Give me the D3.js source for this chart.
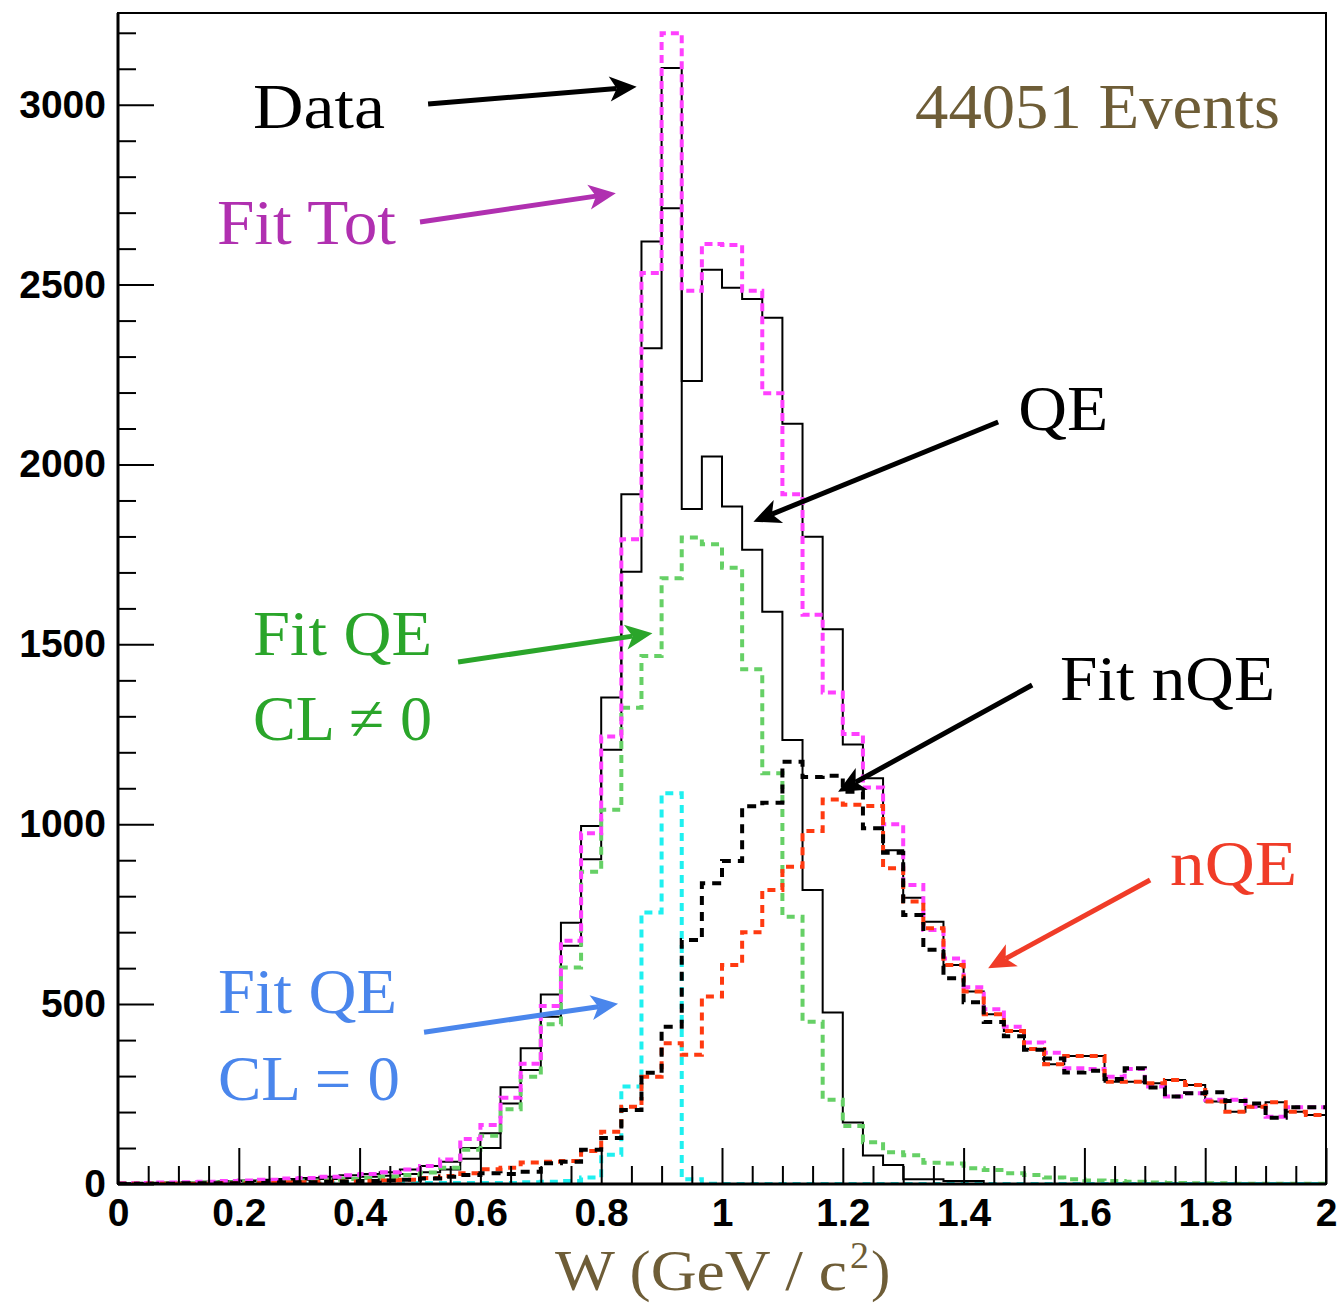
<!DOCTYPE html>
<html><head><meta charset="utf-8">
<script src="https://cdn.jsdelivr.net/npm/d3@7"></script>
<style>body{margin:0;background:#fff}svg{display:block}</style>
</head><body>
<svg id="c" width="1337" height="1307"></svg>
<script>
// ---------- data (60 bins, W from 0 to 2 GeV/c^2) ----------
const binCount = 60;
const wRange = [0, 2];
const dataCounts = [2,3,4,5,6,8,10,12,14,17,20,24,28,33,40,50,62,100,141,269,377,527,726,995,1352,1917,2620,3102,2232,2541,2491,2460,2408,2113,1799,1542,1222,1128,928,796,729,609,535,472,425,375,333,356,356,284,284,280,289,275,229,201,215,227,201,192];
const qeCounts = [1,2,3,4,5,6,8,9,10,12,14,17,20,23,28,33,40,70,100,224,317,465,662,903,1207,1702,2323,2712,1876,2022,1883,1763,1591,1234,817,477,171,79,53,13,13,8,8,0,0,0,0,0,0,0,0,0,0,0,0,0,0,0,0,0];
const nqeCounts = [1,1,1,1,1,2,2,3,4,5,6,7,8,10,12,17,22,30,41,45,60,62,64,92,145,215,298,391,359,521,609,700,817,882,981,1069,1054,1051,878,785,711,609,535,472,425,375,333,356,356,284,284,280,289,275,229,201,215,227,201,192];
const fitTot = [2,3,4,5,6,8,10,12,15,17,20,24,28,33,40,50,68,125,164,240,334,495,676,975,1244,1792,2532,3199,2483,2613,2610,2483,2198,1917,1582,1366,1251,1102,1000,831,706,627,547,486,437,393,365,322,320,298,320,271,243,252,234,234,215,187,213,213];
const fitQEcl = [1,2,3,3,4,5,6,7,9,10,12,14,17,20,25,32,45,95,134,208,298,444,602,868,1040,1324,1468,1684,1797,1778,1713,1431,1142,743,451,234,161,116,88,80,59,57,44,39,30,25,18,13,10,8,6,4,3,2,2,1,1,1,1,1];
const fitQEcl0 = [0,0,0,1,1,1,1,1,2,2,2,2,3,3,3,3,3,3,3,3,5,6,8,18,81,271,755,1086,13,1,0,0,0,0,0,0,0,0,0,0,0,0,0,0,0,0,0,0,0,0,0,0,0,0,0,0,0,0,0,0];
const fitNQE = [1,1,1,2,2,2,3,3,4,5,6,7,8,10,12,15,20,25,30,28,34,58,62,95,128,206,309,437,678,836,898,1050,1060,1174,1131,1135,1090,989,921,748,651,572,505,450,411,373,349,310,315,292,322,268,243,252,255,231,224,184,213,213];
const yTickLabels = [0,500,1000,1500,2000,2500,3000];
const xTickLabels = [0,0.2,0.4,0.6,0.8,1,1.2,1.4,1.6,1.8,2];

// ---------- scales ----------
const svg = d3.select('#c');
const L = 118, R = 1326, T = 13, B = 1184;
const x = d3.scaleLinear().domain(wRange).range([L, R]);
const y = d3.scaleLinear().domain([0, 3255]).range([B, T]);
const bw = (wRange[1] - wRange[0]) / binCount;

svg.append('defs').append('clipPath').attr('id','clip')
  .append('rect').attr('x',L).attr('y',T).attr('width',R-L).attr('height',B-T);

// ---------- histograms ----------
const line = d3.line().x(d=>x(d[0])).y(d=>y(d[1])).curve(d3.curveStepAfter);
function pts(vals){
  const p = vals.map((v,i)=>[wRange[0]+i*bw, v]);
  p.push([wRange[1], vals[vals.length-1]]);
  return p;
}
const plot = svg.append('g').attr('clip-path','url(#clip)');
const series = [
  {v: dataCounts, c:'#000', w:2, d:null},
  {v: qeCounts, c:'#000', w:2, d:null},
  {v: fitQEcl, c:'#66d066', w:4, d:'8,6'},
  {v: fitQEcl0, c:'#1ff0f0', w:4, d:'8,6'},
  {v: fitTot, c:'#ff40ff', w:4, d:'8,5'},
  {v: nqeCounts, c:'#ff3a10', w:4, d:'8,6'},
  {v: fitNQE, c:'#000', w:4, d:'9,7'}
];
series.forEach(s=>{
  plot.append('path').attr('d', line(pts(s.v)))
    .attr('fill','none').attr('stroke',s.c).attr('stroke-width',s.w)
    .attr('stroke-dasharray', s.d);
});

// ---------- axes ----------
const axFont = '"Liberation Sans", Arial, Helvetica, sans-serif';
const yMajor = d3.axisLeft(y).tickValues(yTickLabels).tickSize(-36).tickPadding(12).tickFormat(d3.format('d'));
const yMinor = d3.axisLeft(y).tickValues(d3.range(0,3255,100).filter(v=>v%500)).tickSize(-18).tickFormat('');
const xMajor = d3.axisBottom(x).tickValues(xTickLabels).tickSize(-36).tickPadding(14).tickFormat(d=>d3.format('~g')(d));
const xMinor = d3.axisBottom(x).tickValues(d3.range(0,2.001,0.05).filter(v=>Math.abs(v*5-Math.round(v*5))>1e-6)).tickSize(-18).tickFormat('');

function styleAxis(g){
  g.select('.domain').remove();
  g.selectAll('line').attr('stroke','#000').attr('stroke-width',2);
  g.selectAll('text').attr('font-family',axFont).attr('font-weight','bold').attr('font-size',39).attr('fill','#000');
}
svg.append('g').attr('transform',`translate(${L},0)`).call(yMinor).call(styleAxis);
svg.append('g').attr('transform',`translate(${L},0)`).call(yMajor).call(styleAxis);
svg.append('g').attr('transform',`translate(0,${B})`).call(xMinor).call(styleAxis);
svg.append('g').attr('transform',`translate(0,${B})`).call(xMajor).call(styleAxis);

// frame
svg.append('rect').attr('x',L).attr('y',T).attr('width',R-L).attr('height',B-T)
  .attr('fill','none').attr('stroke','#000').attr('stroke-width',2);
svg.append('line').attr('x1',L).attr('x2',L).attr('y1',T).attr('y2',B).attr('stroke','#000').attr('stroke-width',3);
svg.append('line').attr('x1',L).attr('x2',R).attr('y1',B).attr('y2',B).attr('stroke','#000').attr('stroke-width',3);

// ---------- annotations (positions in data units: W, counts) ----------
const serif = '"Liberation Serif", "Times New Roman", serif';
const labels = [
  {t:'Data', x:0.2235, y:2936, len:132, c:'#000'},
  {t:'Fit Tot', x:0.1639, y:2613, len:179, c:'#b030b0'},
  {t:'44051 Events', x:1.3196, y:2936, len:365, c:'#6e5d37'},
  {t:'QE', x:1.4904, y:2096, len:90, c:'#000'},
  {t:'Fit QE', x:0.2235, y:1470, len:179, c:'#2aa52a'},
  {t:'CL \u2260 0', x:0.2235, y:1234, len:179, c:'#2aa52a'},
  {t:'Fit nQE', x:1.5596, y:1345, len:215, c:'#000'},
  {t:'nQE', x:1.7417, y:831, len:127, c:'#f03c28'},
  {t:'Fit QE', x:0.1656, y:475, len:179, c:'#4a86ec'},
  {t:'CL = 0', x:0.1656, y:233, len:182, c:'#4a86ec'}
];
labels.forEach(l=>{
  svg.append('text').attr('x', x(l.x)).attr('y', y(l.y))
    .attr('font-family', serif).attr('font-size', 64).attr('fill', l.c)
    .attr('textLength', l.len).attr('lengthAdjust','spacingAndGlyphs')
    .text(l.t);
});

// arrows: from (W, count) to (W, count)
const arrows = [
  {f:[0.5134,3002], t:[0.8587,3050], c:'#000'},
  {f:[0.5000,2674], t:[0.8242,2754], c:'#b030b0'},
  {f:[1.4572,2118], t:[1.0520,1841], c:'#000'},
  {f:[0.5630,1451], t:[0.8848,1531], c:'#2aa52a'},
  {f:[1.5135,1387], t:[1.1922,1090], c:'#000'},
  {f:[1.7088,845], t:[1.4406,600], c:'#f03c28'},
  {f:[0.5067,422], t:[0.8279,501], c:'#4a86ec'}
];
arrows.forEach(a=>{
  const x1=x(a.f[0]), y1=y(a.f[1]), x2=x(a.t[0]), y2=y(a.t[1]);
  const ang = Math.atan2(y2-y1, x2-x1);
  const hl = 27, hw = 12.5, notch = 7;
  const ux = Math.cos(ang), uy = Math.sin(ang), px=-uy, py=ux;
  const bx = x2-ux*hl, by = y2-uy*hl;
  const nx = x2-ux*(hl-notch), ny = y2-uy*(hl-notch);
  svg.append('line').attr('x1',x1).attr('y1',y1).attr('x2',nx).attr('y2',ny)
    .attr('stroke',a.c).attr('stroke-width',5);
  svg.append('path').attr('d',`M${x2},${y2}L${bx+px*hw},${by+py*hw}L${nx},${ny}L${bx-px*hw},${by-py*hw}Z`)
    .attr('fill',a.c);
});

// x-axis title
const olive = '#6e5d37';
svg.append('text').attr('x',555).attr('y',1290).attr('font-family',serif).attr('font-size',58)
  .attr('fill',olive).attr('textLength',292).attr('lengthAdjust','spacingAndGlyphs').text('W (GeV / c');
svg.append('text').attr('x',850).attr('y',1268).attr('font-family',serif).attr('font-size',38)
  .attr('fill',olive).text('2');
svg.append('text').attr('x',871).attr('y',1290).attr('font-family',serif).attr('font-size',58)
  .attr('fill',olive).text(')');
</script>
</body></html>
